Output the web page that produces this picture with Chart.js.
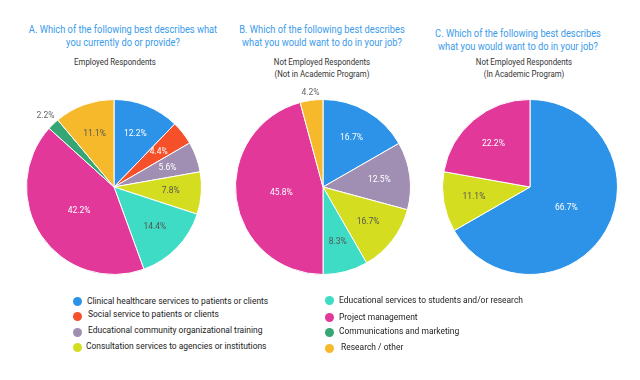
<!DOCTYPE html>
<html>
<head>
<meta charset="utf-8">
<script src="https://cdn.jsdelivr.net/npm/chart.js@4/dist/chart.umd.min.js"></script>
<style>
  html,body{margin:0;padding:0;background:#fff;}
  body{width:640px;height:380px;position:relative;overflow:hidden;font-family:Roboto,"Noto Sans",sans-serif;}
  .t{position:absolute;white-space:nowrap;text-align:center;}
  .title{color:#3b9bea;font-size:10px;line-height:13px;transform:translateX(-50%) scaleX(0.93);}
  .sub{color:#333;font-size:8.5px;line-height:12px;transform:translateX(-50%) scaleX(0.92);}
  canvas{position:absolute;}
  .lg{position:absolute;font-size:9.5px;color:#222;white-space:nowrap;line-height:12px;transform-origin:0 50%;transform:scaleX(0.89);}
  .dot{position:absolute;width:9px;height:9px;border-radius:50%;}
</style>
</head>
<body>
<div class="t title" style="left:123px;top:23px;">A. Which of the following best describes what<br>you currently do or provide?</div>
<div class="t sub" style="left:115px;top:56px;">Employed Respondents</div>
<div class="t title" style="left:322px;top:23px;">B. Which of the following best describes<br>what you would want to do in your job?</div>
<div class="t sub" style="left:322px;top:56px;">Not Employed Respondents<br>(Not in Academic Program)</div>
<div class="t title" style="left:518px;top:27px;">C. Which of the following best describes<br>what you would want to do in your job?</div>
<div class="t sub" style="left:524px;top:56px;">Not Employed Respondents<br>(In Academic Program)</div>

<canvas id="cA" width="210" height="210" style="left:9px;top:82px;width:210px;height:210px;"></canvas>
<canvas id="cB" width="210" height="210" style="left:218px;top:82px;width:210px;height:210px;"></canvas>
<canvas id="cC" width="210" height="210" style="left:425px;top:82px;width:210px;height:210px;"></canvas>
<div id="legend"></div>

<script>
// ---- data ----
const categories = [
  'Clinical healthcare services to patients or clients',
  'Social service to patients or clients',
  'Educational community organizational training',
  'Consultation services to agencies or institutions',
  'Educational services to students and/or research',
  'Project management',
  'Communications and marketing',
  'Research / other'
];
const colors = ['#2d93e8','#f5502a','#a18fb3','#d5dd20','#3fdcc5','#e2389a','#35a674','#f6b92c'];

const valuesA = [12.2, 4.4, 5.6, 7.8, 14.4, 42.2, 2.2, 11.1];
const valuesB = [16.7, 0, 12.5, 12.5, 8.3, 45.8, 0, 4.2];
const valuesC = [66.7, 0, 0, 11.1, 0, 22.2, 0, 0];

// label texts as printed in the picture (B's yellow slice is labelled 16.7%)
const shownA = ['12.2%','4.4%','5.6%','7.8%','14.4%','42.2%','2.2%','11.1%'];
const shownB = ['16.7%','','12.5%','16.7%','8.3%','45.8%','','4.2%'];
const shownC = ['66.7%','','','11.1%','','22.2%','',''];

const outsideA = [6];
const outsideB = [7];
const outsideC = [];

// ---- label plugin ----
const lightSlices = [3,4,7];
const sliceLabels = {
  id:'sliceLabels',
  afterDatasetsDraw(chart, args, opts){
    const ctx = chart.ctx;
    const meta = chart.getDatasetMeta(0);
    const vals = chart.data.datasets[0].data;
    ctx.save();
    ctx.font = '8.5px Roboto';
    ctx.textAlign = 'center';
    ctx.textBaseline = 'middle';
    meta.data.forEach((arc, i) => {
      if (!vals[i]) return;
      const txt = opts.shown[i];
      if (!txt) return;
      const p = arc.getProps(['x','y','startAngle','endAngle','outerRadius'], true);
      const mid = (p.startAngle + p.endAngle) / 2;
      const dx = Math.cos(mid), dy = Math.sin(mid);
      let r, color;
      if (opts.outside.includes(i)) {
        const w = ctx.measureText(txt).width;
        r = p.outerRadius + 2 + Math.abs(dx) * w / 2 + Math.abs(dy) * 4;
        color = '#666';
      } else {
        r = p.outerRadius * (vals[i] > 40 ? 0.48 : 0.65);
        color = lightSlices.includes(i) ? '#555' : '#fff';
      }
      ctx.fillStyle = color;
      ctx.fillText(txt, p.x + dx * r, p.y + dy * r);
    });
    ctx.restore();
  }
};

function makePie(id, values, shown, outside){
  new Chart(document.getElementById(id), {
    type: 'pie',
    data: {
      labels: categories,
      datasets: [{
        data: values,
        backgroundColor: colors,
        borderColor: '#fff',
        borderWidth: c => (c.raw > 0 ? 1 : 0)
      }]
    },
    options: {
      responsive: false,
      animation: false,
      layout: { padding: 17 },
      plugins: {
        legend: { display: false },
        tooltip: { enabled: false },
        sliceLabels: { shown: shown, outside: outside }
      }
    },
    plugins: [sliceLabels]
  });
}
makePie('cA', valuesA, shownA, outsideA);
makePie('cB', valuesB, shownB, outsideB);
makePie('cC', valuesC, shownC, outsideC);

// ---- legend ----
const legendPos = [
  [77,301,87,301],[77,316,88,314],[77,332,88,330],[77,347,86,346],
  [329,300,339,300],[329,317,339,317],[329,332,339,331],[329,348,341,347]
];
const lg = document.getElementById('legend');
categories.forEach((name, i) => {
  const [dx, dy, tx, ty] = legendPos[i];
  const d = document.createElement('div');
  d.className = 'dot';
  d.style.left = (dx - 4.5) + 'px';
  d.style.top = (dy - 4.5) + 'px';
  d.style.background = colors[i];
  lg.appendChild(d);
  const t = document.createElement('div');
  t.className = 'lg';
  t.style.left = tx + 'px';
  t.style.top = (ty - 6) + 'px';
  t.textContent = name;
  lg.appendChild(t);
});
</script>
</body>
</html>
